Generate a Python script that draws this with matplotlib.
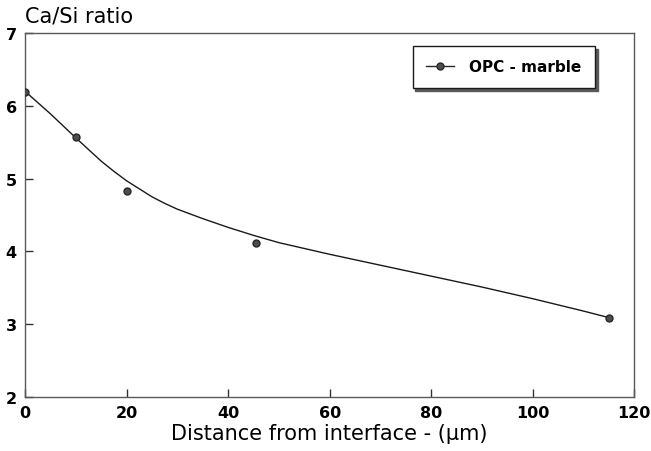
import matplotlib.pyplot as plt

# measured points
dist = [0, 10, 20, 45.5, 115]
ratio = [6.19, 5.57, 4.83, 4.11, 3.09]

# fitted curve
curve_x = [0, 5, 10, 12.5, 15, 17.5, 20, 22.5, 25, 27.5, 30, 35, 40, 45, 50, 60, 70,
           80, 90, 100, 110, 115]
curve_y = [6.20, 5.89, 5.56, 5.40, 5.24, 5.10, 4.97, 4.86, 4.75, 4.66, 4.58, 4.45,
           4.33, 4.22, 4.12, 3.96, 3.81, 3.66, 3.51, 3.35, 3.18, 3.09]

plt.rcParams['font.family'] = 'DejaVu Sans'

fig = plt.figure(figsize=(6.51, 4.52), dpi=100)
ax = fig.add_axes([0.0384, 0.1195, 0.936, 0.8053])

ax.plot(curve_x, curve_y, color='0.1', lw=1.0, zorder=2)
ax.plot(dist, ratio, 'o', color='0.3', mec='0.15', ms=5, zorder=3)

# legend proxy: line with marker
ax.plot([], [], '-o', color='0.15', mfc='0.3', ms=5, lw=1.0, label='OPC - marble')
leg = ax.legend(loc='upper left', bbox_to_anchor=(0.636, 0.965), frameon=True,
                fancybox=False, shadow={'color': '0.35', 'alpha': 1},
                prop={'weight': 'bold', 'size': 11}, handlelength=1.8,
                borderpad=0.9, borderaxespad=0, handletextpad=1.0)
leg.get_frame().set_edgecolor('0.1')
leg.get_frame().set_linewidth(1.0)

ax.set_xlim(0, 120)
ax.set_ylim(2, 7)
ax.set_xticks([0, 20, 40, 60, 80, 100, 120])
ax.set_yticks([2, 3, 4, 5, 6, 7])
ax.tick_params(direction='in', length=6, width=1, color='0.2', labelsize=11.5, pad=6)
for lab in ax.get_xticklabels() + ax.get_yticklabels():
    lab.set_fontweight('bold')
for s in ax.spines.values():
    s.set_color('0.35')
    s.set_linewidth(1.0)

ax.set_xlabel('Distance from interface - (µm)', fontsize=15, labelpad=2)
fig.text(0.038, 0.963, 'Ca/Si ratio', fontsize=15, ha='left', va='center')

fig.savefig('out.png', dpi=100)
